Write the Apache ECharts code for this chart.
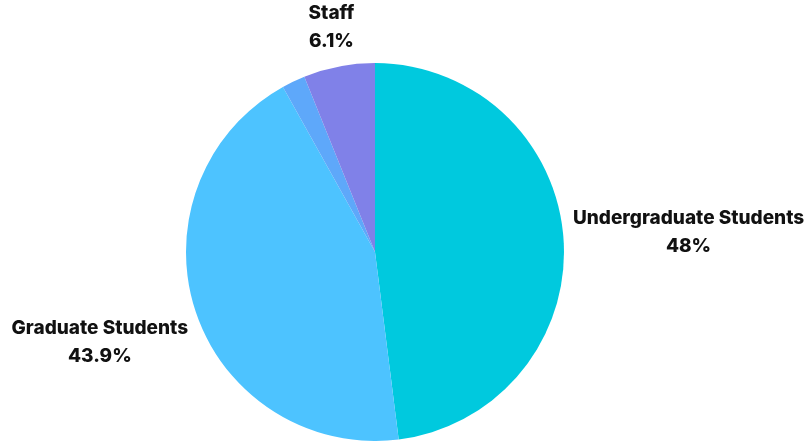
<!DOCTYPE html>
<html><head><meta charset="utf-8">
<script src="https://cdn.jsdelivr.net/npm/echarts@6/dist/echarts.min.js"></script>
<style>html,body{margin:0;padding:0;background:#fff}#c{width:805px;height:441px}</style>
</head><body><div id="c"></div>
<script>
const categories = ["Undergraduate Students", "Graduate Students", "Other", "Staff"];
const values = [48, 43.9, 2.0, 6.1];
const colors = ["#00C9DE", "#4DC3FF", "#5EA8FA", "#8081E8"];
const showLabel = [true, true, false, true];

const chart = echarts.init(document.getElementById('c'), null, {renderer: 'canvas'});
const GAP = 8;
chart.setOption({
  animation: false,
  series: [{
    type: 'pie',
    center: [375, 252],
    radius: [0, 189],
    startAngle: 90,
    clockwise: true,
    avoidLabelOverlap: false,
    data: categories.map((c, i) => ({
      name: c, value: values[i],
      itemStyle: {color: colors[i]},
      label: {show: showLabel[i]}
    })),
    label: {
      position: 'outside',
      formatter: p => p.name + '\n' + p.value + '%',
      fontFamily: 'Inter',
      fontWeight: 800,
      fontSize: 19,
      lineHeight: 28,
      color: '#111'
    },
    labelLine: {show: false, length: 10, length2: 0},
    labelLayout: function (params) {
      const pts = params.labelLinePoints;
      if (!pts || pts.length < 2) return {};
      const p0 = pts[0], p1 = pts[1];
      let dx = p1[0] - p0[0], dy = p1[1] - p0[1];
      const len = Math.hypot(dx, dy) || 1;
      dx /= len; dy /= len;
      const w = params.labelRect.width, h = params.labelRect.height;
      const ext = Math.abs(dx) * w / 2 + Math.abs(dy) * h / 2 + GAP;
      return {
        x: p0[0] + dx * ext,
        y: p0[1] + dy * ext,
        align: 'center',
        verticalAlign: 'middle'
      };
    }
  }]
});
</script></body></html>
